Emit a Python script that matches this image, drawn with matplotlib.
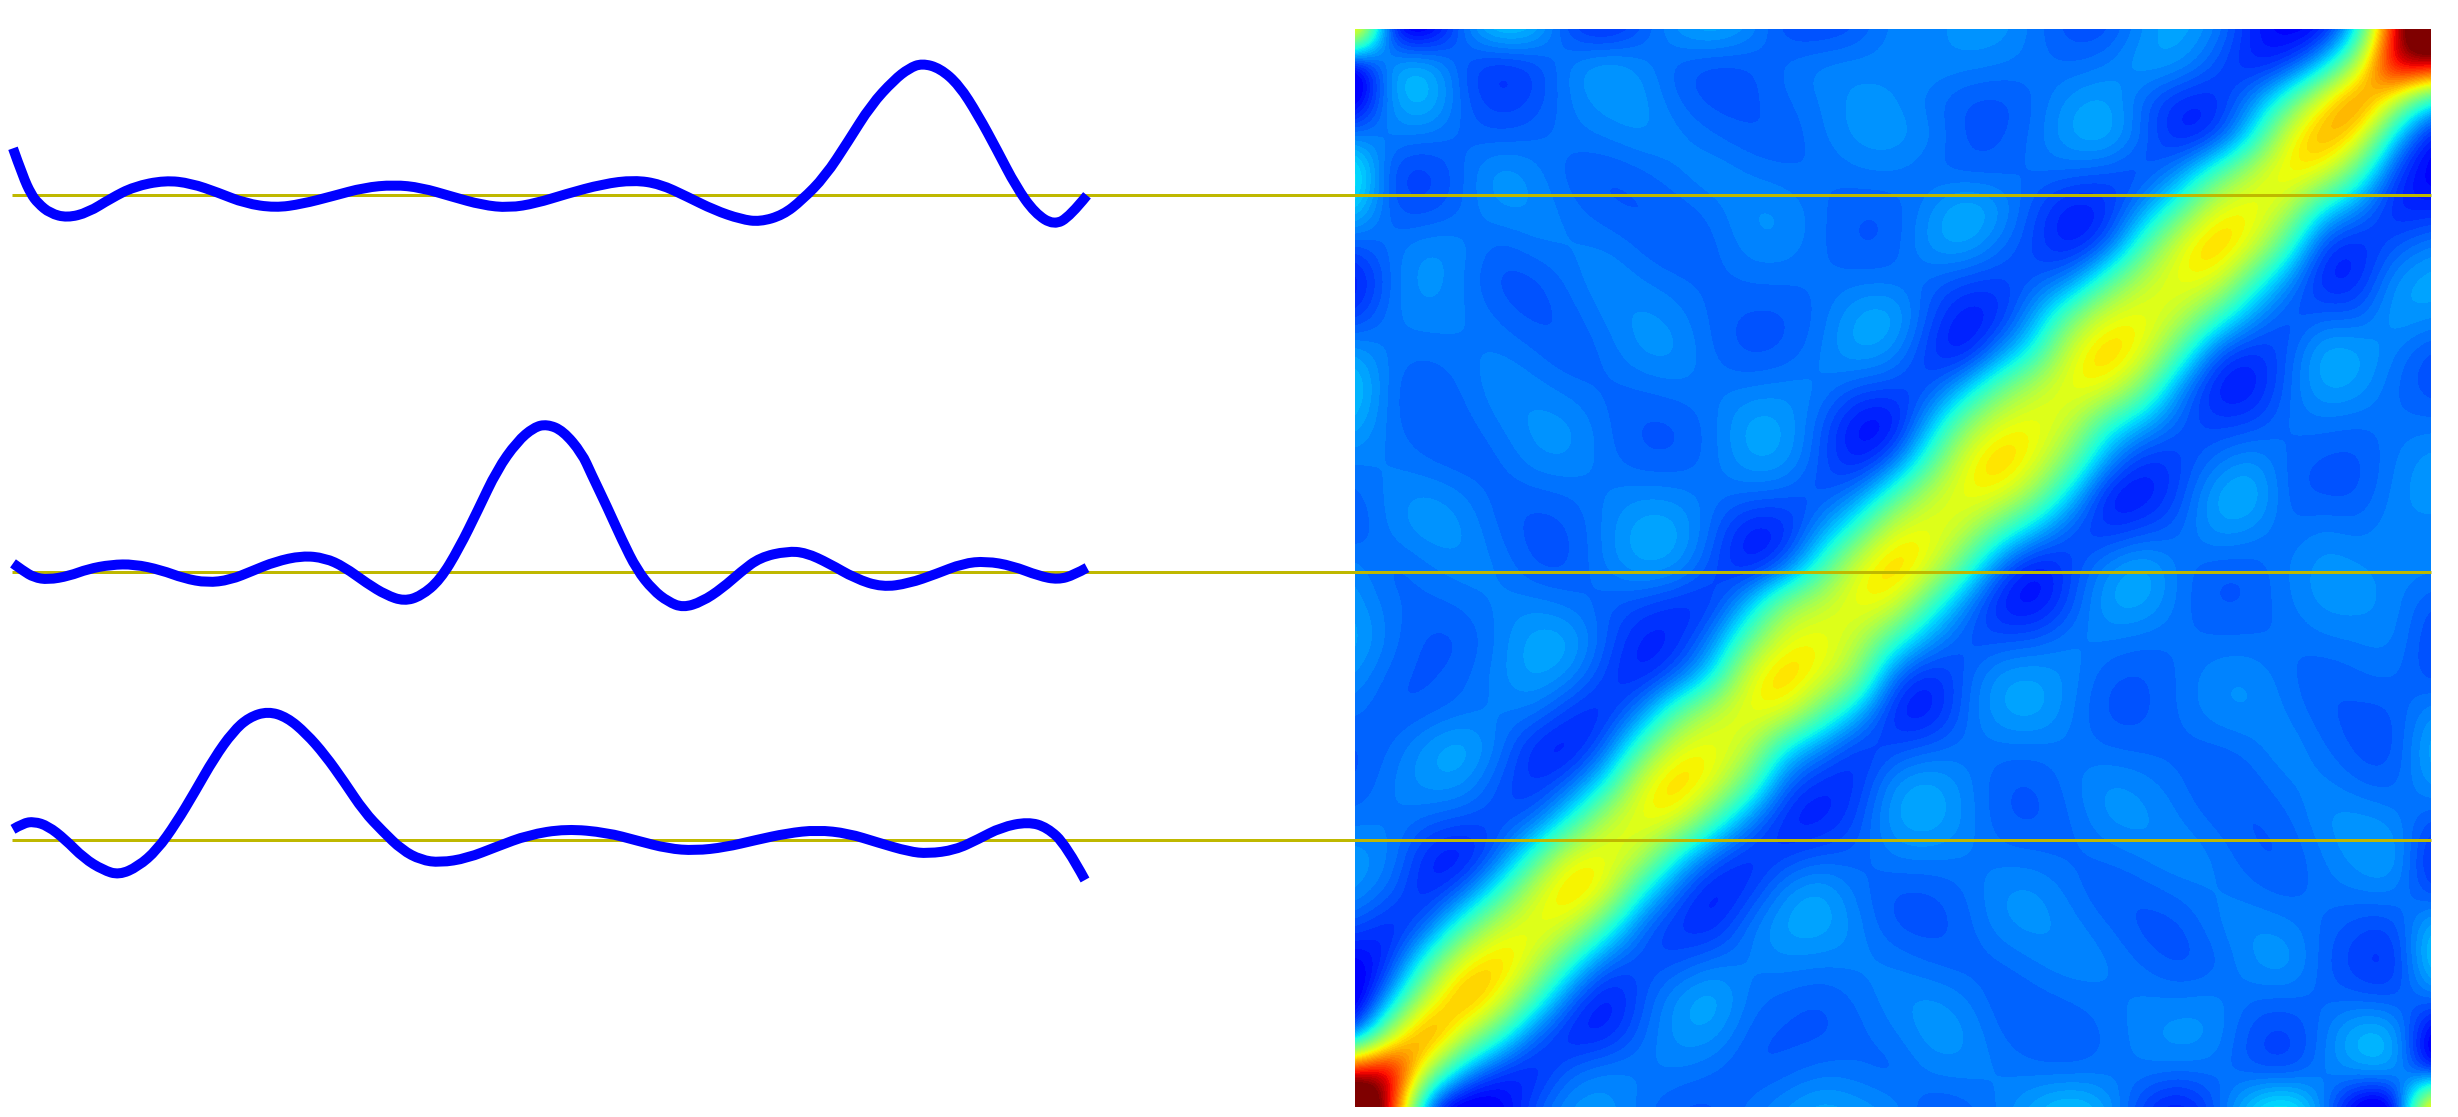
import numpy as np
import matplotlib
matplotlib.use("Agg")
import matplotlib.pyplot as plt
from matplotlib.path import Path
from matplotlib.patches import PathPatch

# slices: sample position (px along the strip) and height above the baseline
top_x = [13, 23, 31, 38, 50, 67, 88, 111, 134, 165, 191, 218, 245, 275, 302, 333, 364, 394, 421, 452, 482, 509, 536, 566,
         603, 634, 660, 687, 714, 741, 760, 783, 802, 825, 848, 871, 894, 909, 922, 940, 959, 978, 997, 1016, 1035, 1054, 1070, 1087]
top_y = [47, 18.7, 1.3, -8, -18, -22.5, -17.3, -3, 8.7, 15, 12, 2.7, -8, -12.5, -8.7, -0.7, 7.7, 10.5, 7.7, -1.3, -9.7, -12.5, -8, 1.3,
         11.3, 15.2, 11.3, -1.3, -14.7, -24, -26.5, -19.7, -4.7, 18.7, 53.7, 90.3, 115.3, 127, 132, 127, 110.3, 80.3, 45.3, 8.7, -18, -30, -21, 0]

mid_x = [13, 23, 34, 48, 69, 88, 111, 134, 161, 184, 207, 230, 253, 275, 302, 325, 344, 367, 386, 404, 421, 440, 459, 478, 497, 517, 534, 547, 563, 582,
         591, 607, 622, 637, 653, 668, 683, 702, 722, 741, 760, 787, 806, 829, 855, 882, 909, 936, 963, 986, 1012, 1039, 1058, 1074, 1087]
mid_y = [8.3, 1, -5.7, -8, -4.3, 2.7, 7, 7.5, 1.7, -6.7, -11, -8.3, 1, 10, 16, 13.7, 5, -11.7, -23.3, -29.5, -24.3, -8.3, 23.3, 61.7, 101.7, 130, 144.5, 147.5, 141, 118.3,
         98.3, 65, 31.7, 1.7, -18.3, -30, -36, -30, -16.7, 0, 14.3, 20.5, 19, 8.3, -6.7, -15.5, -11.7, -2.3, 8.3, 10.5, 6, -4.3, -8, -3.3, 4]

low_x = [13, 23, 34, 48, 65, 84, 103, 119, 138, 157, 176, 195, 214, 233, 249, 268, 287, 306, 325, 344, 364, 383, 402, 421, 440, 467, 497, 528, 566,
         607, 637, 668, 695, 725, 756, 787, 817, 848, 878, 909, 928, 955, 978, 1001, 1028, 1047, 1066, 1085]
low_y = [11, 17, 18.8, 14.3, 1, -18, -29.7, -34.7, -26.3, -9.7, 17, 48.7, 82, 108.7, 123, 129, 123, 107, 85.3, 58.7, 28.7, 8.7, -9.7, -19.7, -22.3, -18, -6.3, 5.3, 11.5,
         7.7, -0.3, -8.3, -10.3, -7, 0.3, 7, 10.3, 7, -2.3, -11.3, -13.3, -9.7, 1, 13, 18.5, 13, -4.7, -39.7]

baselines = [195.3, 571.7, 840.3]

# kernel, row by row from the bottom, up to the diagonal
row00 = [1.2]
row01 = [.95, 1.0]
row02 = [.15, .58, .82]
row03 = [.05, .28, .6, .76]
row04 = [.1, .15, .41, .65, .71]
row05 = [.2, .14, .2, .42, .6, .65]
row06 = [.27, .22, .14, .2, .38, .6, .71]
row07 = [.27, .25, .15, .12, .2, .4, .63, .65]
row08 = [.23, .24, .22, .2, .19, .2, .36, .58, .65]
row09 = [.2, .24, .27, .27, .2, .16, .2, .35, .63, .71]
row10 = [.2, .22, .27, .3, .24, .15, .13, .2, .43, .63, .65]
row11 = [.23, .2, .21, .23, .24, .24, .17, .15, .24, .45, .58, .65]
row12 = [.26, .21, .2, .215, .25, .285, .26, .18, .14, .2, .34, .63, .71]
row13 = [.29, .23, .2, .2, .24, .29, .29, .21, .14, .15, .24, .46, .63, .65]
row14 = [.27, .225, .215, .225, .245, .25, .23, .21, .19, .16, .16, .3, .52, .58, .65]
row15 = [.256, .205, .233, .253, .243, .2, .2, .243, .28, .266, .19, .138, .204, .41, .63, .71]
row16 = [.2, .245, .27, .265, .22, .195, .2, .245, .295, .29, .215, .13, .14, .26, .42, .63, .65]
row17 = [.21, .25, .265, .245, .21, .21, .22, .24, .255, .25, .23, .22, .21, .19, .24, .42, .58, .65]
row18 = [.24, .24, .22, .205, .215, .255, .26, .23, .205, .205, .23, .28, .275, .2, .13, .2, .41, .63, .71]
row19 = [.29, .225, .205, .21, .24, .265, .265, .225, .2, .2, .23, .29, .28, .21, .12, .11, .28, .5, .63, .65]
row20 = [.33, .22, .2, .225, .255, .25, .23, .215, .22, .235, .235, .24, .25, .245, .2, .19, .18, .3, .47, .58, .65]
row21 = [.28, .23, .225, .235, .245, .225, .2, .225, .265, .265, .22, .195, .205, .24, .285, .26, .17, .12, .25, .38, .63, .71]
row22 = [.17, .24, .25, .245, .22, .195, .21, .245, .265, .25, .215, .2, .2, .225, .285, .3, .2, .13, .15, .28, .48, .63, .65]
row23 = [.12, .23, .275, .24, .195, .195, .23, .26, .24, .225, .215, .225, .225, .225, .23, .23, .22, .19, .18, .2, .24, .43, .58, .65]
row24 = [.2, .23, .26, .25, .21, .24, .245, .24, .215, .2, .215, .255, .255, .225, .2, .205, .27, .29, .23, .18, .13, .19, .42, .63, .72]
row25 = [.33, .2, .19, .22, .26, .26, .23, .205, .2, .21, .23, .26, .26, .225, .205, .205, .25, .31, .27, .19, .13, .15, .26, .42, .63, .66]
row26 = [.4, .18, .17, .22, .28, .25, .21, .2, .215, .24, .26, .24, .225, .22, .235, .24, .22, .21, .215, .23, .22, .2, .18, .25, .42, .58, .68]
row27 = [.25, .24, .23, .22, .21, .22, .23, .24, .26, .25, .225, .205, .205, .235, .265, .27, .25, .2, .2, .23, .285, .3, .22, .135, .16, .33, .63, .76]
row28 = [.06, .28, .32, .21, .17, .19, .24, .27, .27, .22, .195, .2, .22, .24, .265, .26, .23, .2, .195, .22, .27, .285, .21, .15, .15, .24, .42, .66, .82]
row29 = [.02, .3, .31, .2, .15, .18, .25, .29, .25, .21, .19, .2, .23, .25, .25, .245, .255, .25, .24, .23, .22, .24, .28, .27, .2, .14, .16, .3, .58, 1.0]
row30 = [.85, .09, .06, .23, .34, .31, .18, .14, .2, .27, .3, .26, .19, .18, .2, .25, .24, .27, .27, .23, .19, .19, .26, .29, .25, .15, .1, .11, .3, .95, 1.2]

rows = [row00, row01, row02, row03, row04, row05, row06, row07, row08, row09, row10,
        row11, row12, row13, row14, row15, row16, row17, row18, row19, row20,
        row21, row22, row23, row24, row25, row26, row27, row28, row29, row30]

W, H = 2458, 1117
BLUE = "#0000ff"
OLIVE = "#bfb800"


def smooth_path(xs, ys):
    # quadratic segments with the samples as control points, no polygon corners
    pts = np.column_stack([xs, ys])
    verts = [pts[0]]
    codes = [Path.MOVETO]
    for i in range(1, len(pts) - 1):
        end = pts[i + 1] if i == len(pts) - 2 else (pts[i] + pts[i + 1]) / 2
        verts += [pts[i], end]
        codes += [Path.CURVE3, Path.CURVE3]
    return Path(verts, codes)


# the matrix is symmetric, only one half was typed
kernel = np.zeros((31, 31))
for b, row in enumerate(rows):
    kernel[b, :b + 1] = row
    kernel[:b + 1, b] = row

fig = plt.figure(figsize=(W / 100, H / 100), dpi=100, facecolor="white")

ax_map = fig.add_axes([1355 / W, 1 - 1107 / H, 1076 / W, 1078 / H])
ax_map.imshow(kernel, origin="lower", extent=(-0.5, 30.5, -0.5, 30.5), aspect="auto",
              cmap=plt.get_cmap("jet", 64), vmin=-0.015, vmax=1,
              interpolation="bicubic", interpolation_stage="data")
ax_map.set_xlim(0, 30)
ax_map.set_ylim(0, 30)
ax_map.axis("off")

# overlay in image pixels, the slice lines run across both halves
ax = fig.add_axes([0, 0, 1, 1])
ax.set_xlim(0, W)
ax.set_ylim(H, 0)
ax.axis("off")
ax.patch.set_alpha(0)

for base in baselines:
    ax.plot([12, 2431], [base, base], color=OLIVE, lw=2.16, solid_capstyle="butt", zorder=2)

for xs, ys, base in zip([top_x, mid_x, low_x], [top_y, mid_y, low_y], baselines):
    ax.add_patch(PathPatch(smooth_path(xs, base - np.array(ys)), fill=False, edgecolor=BLUE,
                           lw=7.2, capstyle="butt", joinstyle="round", zorder=3))

fig.savefig("out.png", dpi=100)
